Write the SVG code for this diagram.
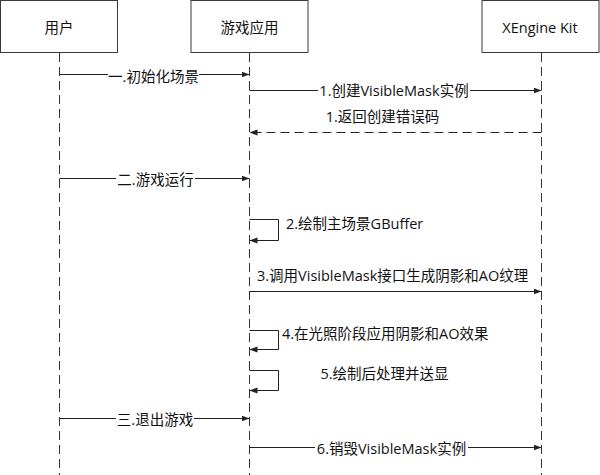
<svg xmlns="http://www.w3.org/2000/svg" width="600" height="475" viewBox="0 0 600 475">
<style>
.box{fill:#fff;stroke:#3a3a3a;stroke-width:1}
.life{stroke:#333;stroke-width:1;stroke-dasharray:9,5;fill:none}
.msg{stroke:#222;stroke-width:1;fill:none}
.ret{stroke:#222;stroke-width:1;fill:none;stroke-dasharray:9,5}
.t{font-family:"Open Sans","Noto Sans CJK SC",sans-serif;font-size:14.5px;fill:#111}
.m{text-anchor:middle}
.bg{fill:#fff}
</style>
<defs>
<marker id="ah" markerUnits="userSpaceOnUse" markerWidth="9" markerHeight="7" refX="8" refY="3" orient="auto">
<path d="M0,0 L8,3 L0,6 z" fill="#222"/>
</marker>
</defs>
<rect width="600" height="475" fill="#fff"/>
<g id="lifelines">
<line class="life" x1="59.5" y1="53" x2="59.5" y2="475"/>
<line class="life" x1="249.5" y1="53" x2="249.5" y2="475"/>
<line class="life" x1="541.5" y1="53" x2="541.5" y2="475"/>
</g>
<g id="user">
<rect class="box" x="0.5" y="0.5" width="117" height="52"/>
<text class="t m" x="59" y="33">用户</text>
</g>
<g id="game">
<rect class="box" x="191" y="0.5" width="117" height="52"/>
<text class="t m" x="249.5" y="33">游戏应用</text>
</g>
<g id="xengine">
<rect class="box" x="482" y="0.5" width="117" height="52"/>
<text class="t m" x="540" y="33">XEngine Kit</text>
</g>
<g id="connectors">
<line class="msg" x1="59.5" y1="74.5" x2="249.5" y2="74.5" marker-end="url(#ah)"/>
<line class="msg" x1="249.5" y1="90.5" x2="541.5" y2="90.5" marker-end="url(#ah)"/>
<line class="ret" x1="541.5" y1="132.5" x2="249.5" y2="132.5" marker-end="url(#ah)"/>
<line class="msg" x1="59.5" y1="178.5" x2="249.5" y2="178.5" marker-end="url(#ah)"/>
<path class="msg" d="M249.5,219.5 H278.5 V240.5 H249.5" marker-end="url(#ah)"/>
<line class="msg" x1="249.5" y1="291.5" x2="541.5" y2="291.5" marker-end="url(#ah)"/>
<path class="msg" d="M249.5,330.5 H278.5 V349.5 H249.5" marker-end="url(#ah)"/>
<path class="msg" d="M249.5,370.5 H278.5 V390.5 H249.5" marker-end="url(#ah)"/>
<line class="msg" x1="59.5" y1="418.5" x2="249.5" y2="418.5" marker-end="url(#ah)"/>
<line class="msg" x1="249.5" y1="447.5" x2="541.5" y2="447.5" marker-end="url(#ah)"/>
</g>
<g id="labels">
<rect class="bg" x="108" y="66" width="91" height="17"/>
<text class="t m" x="153.5" y="82">一.初始化场景</text>
<rect class="bg" x="318" y="82" width="152" height="17"/>
<text class="t m" x="394" y="95.5">1.创建VisibleMask实例</text>
<text class="t m" x="382.5" y="122">1.返回创建错误码</text>
<rect class="bg" x="116" y="170" width="79" height="17"/>
<text class="t m" x="155.5" y="185">二.游戏运行</text>
<text class="t" x="286" y="228.5">2.绘制主场景GBuffer</text>
<text class="t" x="257" y="281">3.调用VisibleMask接口生成阴影和AO纹理</text>
<text class="t" x="282" y="339">4.在光照阶段应用阴影和AO效果</text>
<text class="t m" x="384.5" y="379">5.绘制后处理并送显</text>
<rect class="bg" x="116" y="410" width="78" height="17"/>
<text class="t m" x="155" y="425">三.退出游戏</text>
<rect class="bg" x="315" y="439" width="153" height="17"/>
<text class="t m" x="391.5" y="454">6.销毁VisibleMask实例</text>
</g>
</svg>
